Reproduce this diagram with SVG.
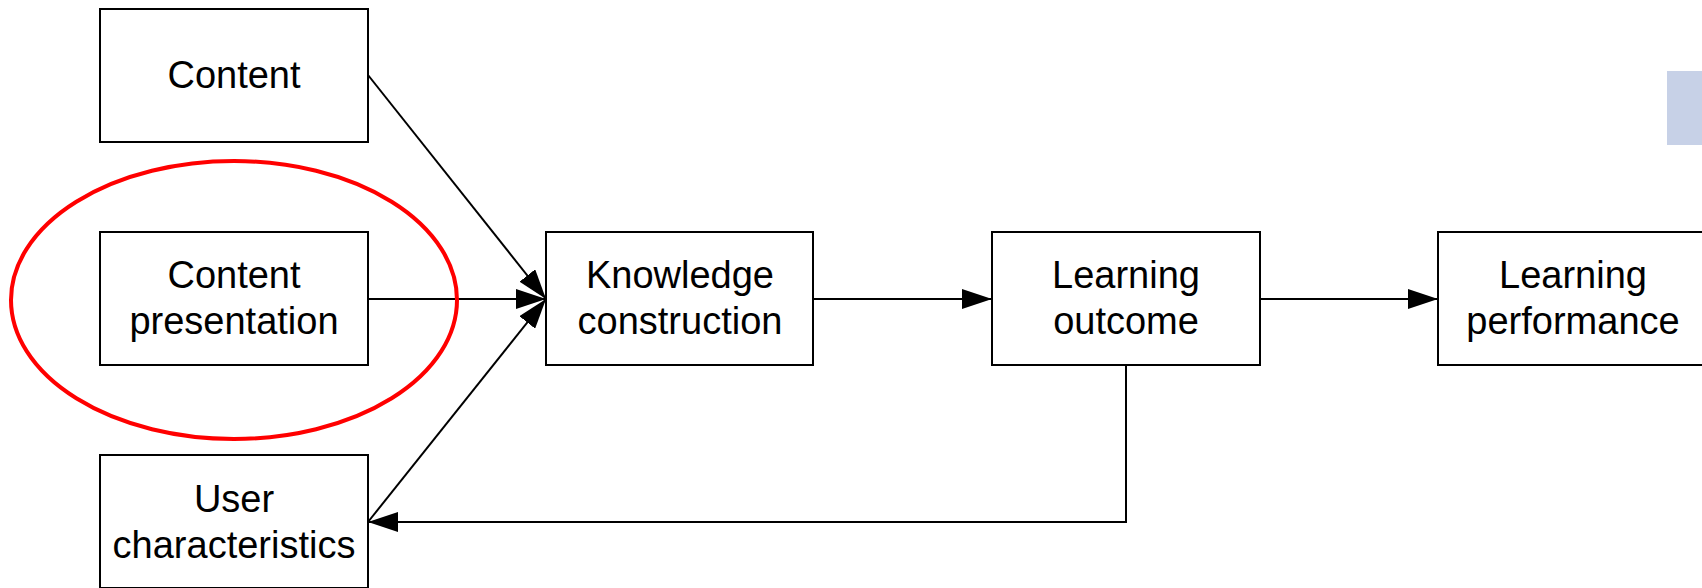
<svg xmlns="http://www.w3.org/2000/svg" width="1702" height="588" viewBox="0 0 1702 588">
<style>
.box{fill:#fff;stroke:#000;stroke-width:2}
.t{font-family:"Liberation Sans",Arial,sans-serif;font-size:38px;fill:#000;text-anchor:middle}
.c{fill:none;stroke:#000;stroke-width:2;marker-end:url(#ah)}
</style>
<defs>
<marker id="ah" markerUnits="userSpaceOnUse" markerWidth="30" markerHeight="20" refX="30" refY="10" orient="auto" viewBox="0 0 30 20">
<path d="M0,0 L30,10 L0,20 z" fill="#000"/>
</marker>
</defs>
<rect width="1702" height="588" fill="#fff"/>
<rect x="1667" y="71" width="40" height="74" fill="#C7D1E7"/>
<g id="content">
<rect class="box" x="100" y="9" width="268" height="133"/>
<text class="t" x="234" y="88">Content</text>
</g>
<g id="content-presentation">
<rect class="box" x="100" y="232" width="268" height="133"/>
<text class="t" x="234" y="288">Content</text>
<text class="t" x="234" y="334">presentation</text>
</g>
<g id="user-characteristics">
<rect class="box" x="100" y="455" width="268" height="133"/>
<text class="t" x="234" y="512">User</text>
<text class="t" x="234" y="558">characteristics</text>
</g>
<g id="knowledge-construction">
<rect class="box" x="546" y="232" width="267" height="133"/>
<text class="t" x="680" y="288">Knowledge</text>
<text class="t" x="680" y="334">construction</text>
</g>
<g id="learning-outcome">
<rect class="box" x="992" y="232" width="268" height="133"/>
<text class="t" x="1126" y="288">Learning</text>
<text class="t" x="1126" y="334">outcome</text>
</g>
<g id="learning-performance">
<rect class="box" x="1438" y="232" width="280" height="133"/>
<text class="t" x="1573" y="288">Learning</text>
<text class="t" x="1573" y="334">performance</text>
</g>
<g id="connectors">
<path class="c" d="M368,75 L546,299"/>
<path class="c" d="M368,299 L546,299"/>
<path class="c" d="M368,522 L546,299"/>
<path class="c" d="M813,299 L992,299"/>
<path class="c" d="M1260,299 L1438,299"/>
<path class="c" d="M1126,365 L1126,522 L368,522"/>
</g>
<g id="highlight">
<ellipse cx="234" cy="300" rx="223" ry="139" fill="none" stroke="#f00" stroke-width="4"/>
</g>
</svg>
